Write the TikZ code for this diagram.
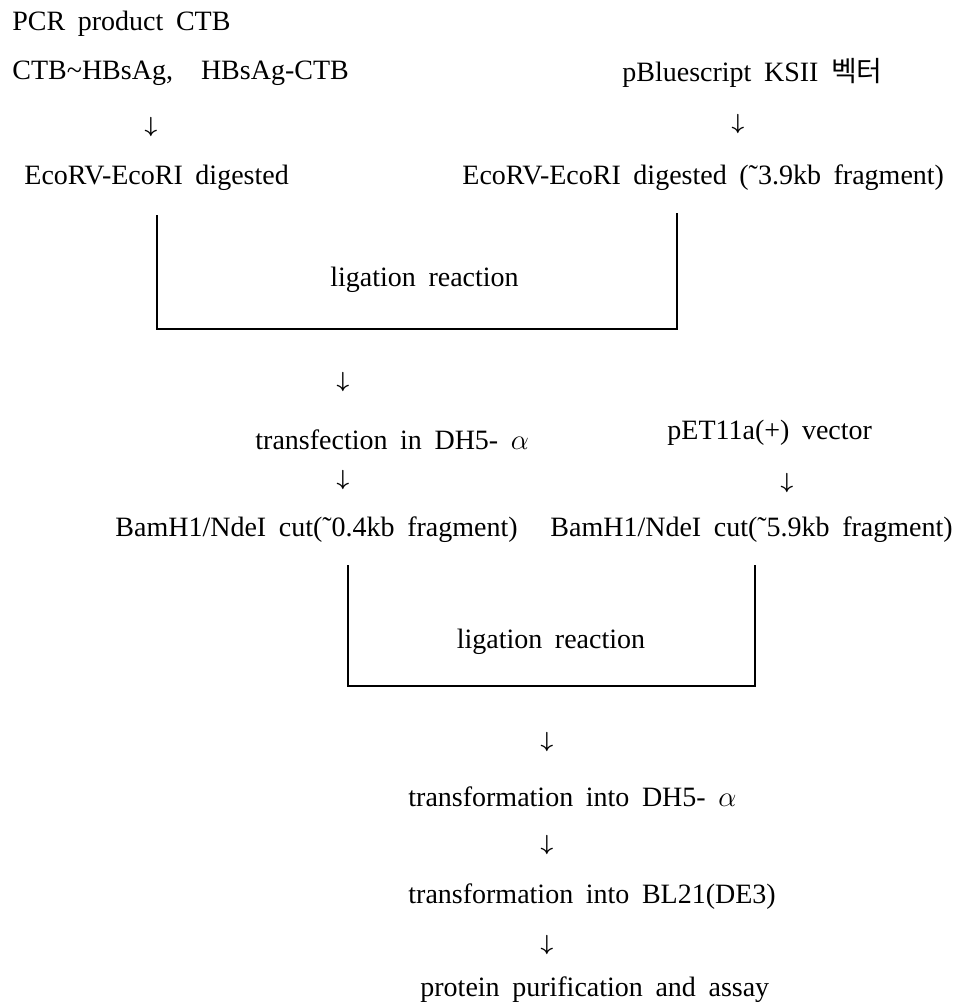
\documentclass[tikz,border=0pt]{standalone}
\usepackage{fontspec}
\setmainfont{Liberation Serif}
\newfontfamily\kor{Noto Sans CJK KR}
\usepackage{tikz}
\usetikzlibrary{positioning}
\newcommand{\flowfont}{\fontsize{14}{17}\selectfont\spaceskip=0.45em plus 0.1em minus 0.05em\relax}
\tikzset{
  % plain text line of the flow sheet, left aligned
  txt/.style  = {anchor=west, inner sep=0pt, font=\flowfont},
  % centred text line
  ctxt/.style = {txt, anchor=center},
  % down arrow glyph between two steps
  dn/.style   = {inner sep=0pt, font=\fontsize{10.5}{12}\selectfont},
  % open bracket under two fragments
  brk/.style  = {line width=1pt, black},
}
\newcommand{\down}{$\boldsymbol{\downarrow}$}
\newcommand{\til}{\char"02DC\relax}
\usepackage{amsmath,amssymb,bm}

\begin{document}
\begin{tikzpicture}[x=0.5pt,y=-0.5pt]
\useasboundingbox[fill=white] (0,0) rectangle (960,1007);
% insert and vector, first cloning
\node[txt] (pcr) at (12,24) {PCR product CTB};
\node[txt] (fus) at (12,73) {CTB\char"7E\relax HBsAg,\hspace{1em}HBsAg-CTB};
\node[dn] (dn1) at (151,127) {\down};
\node[txt] (eco1) at (24,178) {EcoRV-EcoRI digested};
\node[txt] (pbs) at (622,73) {pBluescript KSII {\kor 벡터}};
\node[dn] (dn2) at (738,124) {\down};
\node[txt] (eco2) at (462,178) {EcoRV-EcoRI digested (\til3.9kb fragment)};
% first ligation
\coordinate (b1a) at (157,215);
\coordinate (b1b) at (157,329);
\coordinate (b1c) at (677,329);
\coordinate (b1d) at (677,213);
\draw[brk] (b1a) -- (b1b) -- (b1c) -- (b1d);
\node[txt] (lig1) at (330,280) {ligation reaction};
\node[dn] (dn3) at (343,382) {\down};
% subcloning into pET11a
\node[txt] (trf) at (255,440) {transfection in DH5- $\alpha$};
\node[txt] (pet) at (667,433) {pET11a(+) vector};
\node[dn] (dn4) at (343,480) {\down};
\node[dn] (dn5) at (787,483) {\down};
\node[txt] (bam1) at (115,530) {BamH1/NdeI cut(\til0.4kb fragment)};
\node[txt] (bam2) at (550,530) {BamH1/NdeI cut(\til5.9kb fragment)};
% second ligation
\coordinate (b2a) at (348,565);
\coordinate (b2b) at (348,686);
\coordinate (b2c) at (755,686);
\coordinate (b2d) at (755,565);
\draw[brk] (b2a) -- (b2b) -- (b2c) -- (b2d);
\node[ctxt] (lig2) at (551,642) {ligation reaction};
% expression
\node[dn] (dn6) at (547,742) {\down};
\node[txt] (tdh) at (408,797) {transformation into DH5- $\alpha$};
\node[dn] (dn7) at (547,845) {\down};
\node[txt] (tbl) at (408,897) {transformation into BL21(DE3)};
\node[dn] (dn8) at (547,945) {\down};
\node[txt] (prot) at (420,990) {protein purification and assay};
\end{tikzpicture}
\end{document}
